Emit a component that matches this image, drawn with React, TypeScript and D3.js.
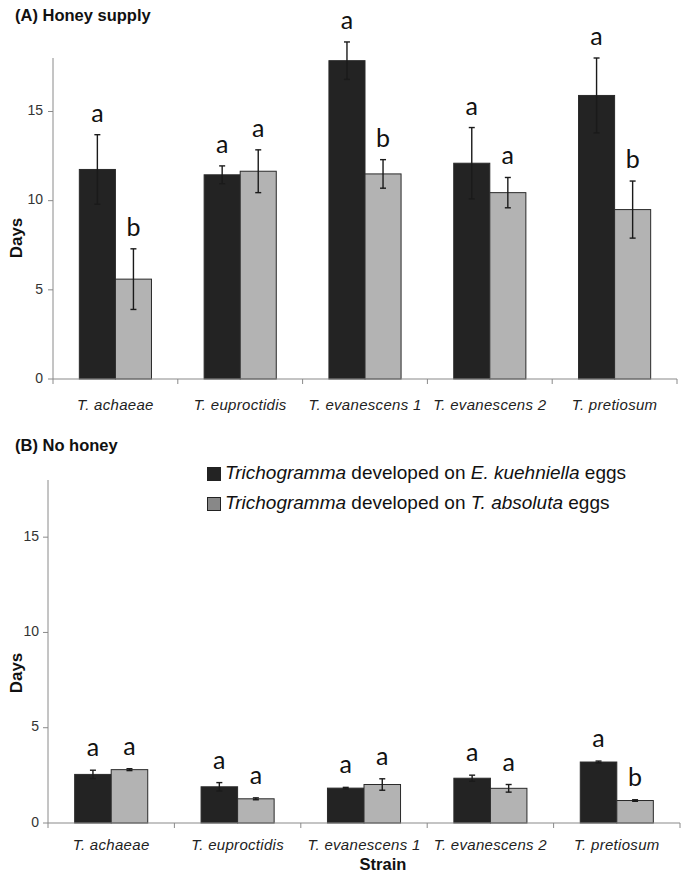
import React from "react";
import * as d3 from "d3";

const strains = ["T. achaeae", "T. euproctidis", "T. evanescens 1", "T. evanescens 2", "T. pretiosum"];
const seriesKeys = ["kuehniella", "absoluta"];

const honeyKuehniella = [11.75, 11.45, 17.85, 12.1, 15.9];
const honeyKuehniellaErr = [1.95, 0.5, 1.05, 2.0, 2.1];
const honeyAbsoluta = [5.6, 11.65, 11.5, 10.45, 9.5];
const honeyAbsolutaErr = [1.7, 1.2, 0.8, 0.85, 1.6];
const honeyLetters = [["a", "b"], ["a", "a"], ["a", "b"], ["a", "a"], ["a", "b"]];

const noHoneyKuehniella = [2.55, 1.9, 1.83, 2.35, 3.2];
const noHoneyKuehniellaErr = [0.22, 0.22, 0.04, 0.16, 0.05];
const noHoneyAbsoluta = [2.8, 1.27, 2.02, 1.82, 1.18];
const noHoneyAbsolutaErr = [0.05, 0.05, 0.3, 0.2, 0.04];
const noHoneyLetters = [["a", "a"], ["a", "a"], ["a", "a"], ["a", "a"], ["a", "b"]];

const yTicks = [0, 5, 10, 15];
const yMax = 18;

const DARK = "#232323";
const LIGHT = "#b3b3b3";
const AXIS = "#8a8a8a";
const SANS = "'Liberation Sans', Arial, sans-serif";

type PanelProps = {
  title: string;
  titleY: number;
  left: number;
  right: number;
  top: number;
  bottom: number;
  k: number[];
  kErr: number[];
  a: number[];
  aErr: number[];
  letters: string[][];
  daysY: number;
  labelY: number;
  tickLabelRight: number;
  letterGap: number;
};

function Panel(p: PanelProps) {
  const x = d3.scaleBand<string>().domain(strains).range([p.left, p.right]).paddingInner(0).paddingOuter(0);
  const y = d3.scaleLinear().domain([0, yMax]).range([p.bottom, p.top]);
  const inner = d3.scaleBand<string>().domain(seriesKeys).range([0, x.bandwidth()]).paddingInner(0).paddingOuter(0.73);
  const vals = [p.k, p.a];
  const errs = [p.kErr, p.aErr];
  return (
    <g>
      <text x={15} y={p.titleY} fontFamily={SANS} fontWeight="bold" fontSize={16.5} fill="#111" dominantBaseline="middle">
        {p.title}
      </text>
      {/* y axis */}
      <line x1={p.left} x2={p.left} y1={p.top} y2={p.bottom} stroke={AXIS} strokeWidth={1} />
      {yTicks.map((t) => (
        <g key={t}>
          <line x1={p.left - 5} x2={p.left} y1={y(t)} y2={y(t)} stroke={AXIS} />
          <text x={p.tickLabelRight} y={y(t)} textAnchor="end" dominantBaseline="middle" fontFamily={SANS} fontSize={14} fill="#333">
            {t}
          </text>
        </g>
      ))}
      <text
        transform={`translate(18,${p.daysY}) rotate(-90)`}
        textAnchor="middle"
        dominantBaseline="middle"
        fontFamily={SANS}
        fontWeight="bold"
        fontSize={17}
        fill="#111"
      >
        Days
      </text>
      {/* bars */}
      {strains.map((s, i) => (
        <g key={s}>
          {seriesKeys.map((key, j) => {
            const bx = (x(s) as number) + (inner(key) as number);
            const bw = inner.bandwidth();
            const v = vals[j][i];
            const e = errs[j][i];
            const cx = bx + bw / 2;
            return (
              <g key={key}>
                <rect x={bx} y={y(v)} width={bw} height={y(0) - y(v)} fill={j === 0 ? DARK : LIGHT} stroke="#2a2a2a" strokeWidth={1} />
                <line x1={cx} x2={cx} y1={y(v + e)} y2={y(v - e)} stroke="#1a1a1a" strokeWidth={1.4} />
                <line x1={cx - 3} x2={cx + 3} y1={y(v + e)} y2={y(v + e)} stroke="#1a1a1a" strokeWidth={1.4} />
                <line x1={cx - 3} x2={cx + 3} y1={y(v - e)} y2={y(v - e)} stroke="#1a1a1a" strokeWidth={1.4} />
                <text x={cx} y={y(v + e) - p.letterGap} textAnchor="middle" fontFamily="Lato, 'Open Sans', sans-serif" fontSize={25} fill="#111">
                  {p.letters[i][j]}
                </text>
              </g>
            );
          })}
        </g>
      ))}
      {/* x axis */}
      <line x1={p.left} x2={p.right} y1={p.bottom} y2={p.bottom} stroke={AXIS} strokeWidth={1.2} />
      {[...strains.map((s) => x(s) as number), p.right].map((tx, i) => (
        <line key={i} x1={tx} x2={tx} y1={p.bottom} y2={p.bottom + 5} stroke={AXIS} />
      ))}
      {strains.map((s) => (
        <text
          key={s}
          x={(x(s) as number) + x.bandwidth() / 2}
          y={p.labelY}
          textAnchor="middle"
          dominantBaseline="middle"
          fontFamily={SANS}
          fontStyle="italic"
          fontSize={15}
          letterSpacing={0.3}
          fill="#222"
        >
          {s}
        </text>
      ))}
    </g>
  );
}

export default function App() {
  return (
    <svg
      width={681}
      height={874}
      viewBox="0 0 681 874"
      style={{ position: "absolute", left: 0, top: 0, display: "block", background: "#fff" }}
    >
      <rect x={0} y={0} width={681} height={874} fill="#fff" />
      <Panel
        title="(A) Honey supply"
        titleY={17}
        left={53}
        right={677}
        top={58}
        bottom={379}
        k={honeyKuehniella}
        kErr={honeyKuehniellaErr}
        a={honeyAbsoluta}
        aErr={honeyAbsolutaErr}
        letters={honeyLetters}
        daysY={238}
        labelY={406}
        tickLabelRight={43}
        letterGap={13}
      />
      <Panel
        title="(B) No honey"
        titleY={447}
        left={48}
        right={680}
        top={480}
        bottom={823}
        k={noHoneyKuehniella}
        kErr={noHoneyKuehniellaErr}
        a={noHoneyAbsoluta}
        aErr={noHoneyAbsolutaErr}
        letters={noHoneyLetters}
        daysY={673}
        labelY={846}
        tickLabelRight={39}
        letterGap={14}
      />
      {/* legend */}
      <g fontFamily={SANS} fontSize={19} fill="#111">
        <rect x={207.5} y={467.5} width={13} height={13} fill={DARK} stroke="#222" />
        <text x={225} y={474} dominantBaseline="middle">
          <tspan fontStyle="italic">Trichogramma</tspan> developed on <tspan fontStyle="italic">E. kuehniella</tspan> eggs
        </text>
        <rect x={207.5} y={497.5} width={13} height={13} fill="#888" stroke="#222" />
        <text x={225} y={504} dominantBaseline="middle">
          <tspan fontStyle="italic">Trichogramma</tspan> developed on <tspan fontStyle="italic">T. absoluta</tspan> eggs
        </text>
      </g>
      <text x={383} y={866} textAnchor="middle" dominantBaseline="middle" fontFamily={SANS} fontWeight="bold" fontSize={16.5} fill="#111">
        Strain
      </text>
    </svg>
  );
}
